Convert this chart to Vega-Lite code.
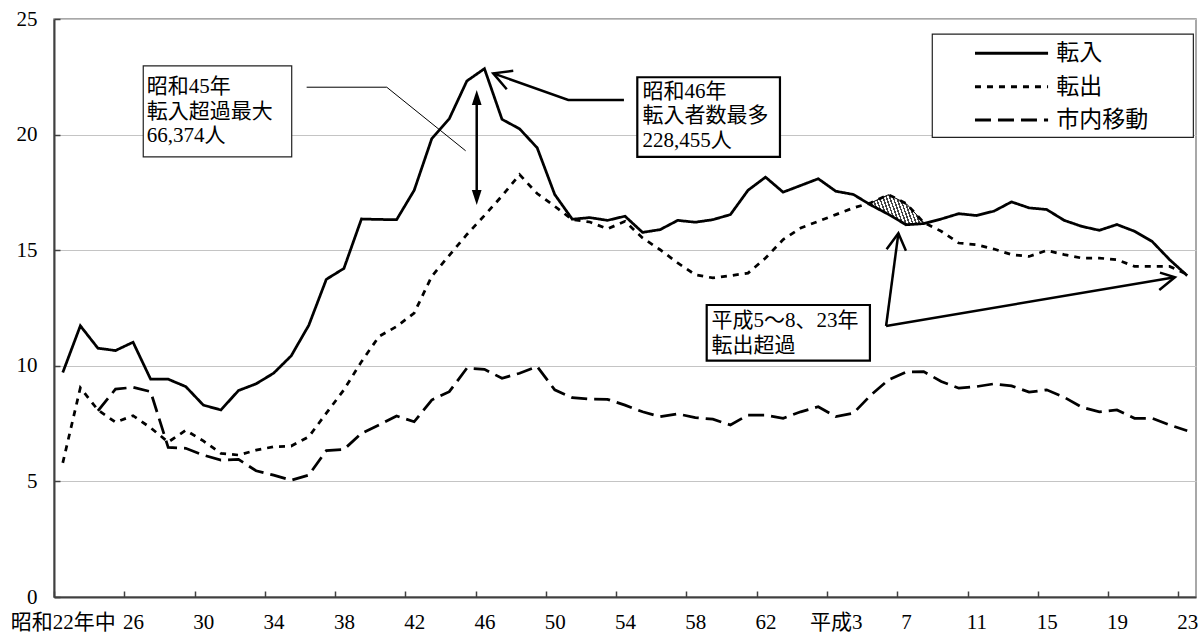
{
  "$schema": "https://vega.github.io/schema/vega-lite/v6.json",
  "width": 1142,
  "height": 578,
  "autosize": {"type": "none"},
  "padding": {"left": 54, "top": 19, "right": 4, "bottom": 38},
  "config": {
    "font": "'Liberation Serif', 'Noto Sans CJK JP'",
    "view": {"stroke": "#8c8c8c", "strokeWidth": 1.5},
    "axis": {"domainColor": "#404040", "domainWidth": 2, "tickColor": "#404040", "tickWidth": 1.5, "labelFontSize": 21, "labelColor": "black", "labelFont": "'Liberation Serif', 'Noto Sans CJK JP'"},
    "axisX": {"grid": false},
    "axisY": {"grid": true, "gridColor": "#c4c4c4", "gridWidth": 1}
  },
  "datasets": {
    "migration": [
      {"i": 0, "年": "昭和22", "転入": 9.71, "転出": 5.80, "市内移動": null},
      {"i": 1, "年": "昭和23", "転入": 11.73, "転出": 9.05, "市内移動": null},
      {"i": 2, "年": "昭和24", "転入": 10.76, "転出": 8.09, "市内移動": 8.05},
      {"i": 3, "年": "昭和25", "転入": 10.66, "転出": 7.56, "市内移動": 8.99},
      {"i": 4, "年": "昭和26", "転入": 11.02, "転出": 7.84, "市内移動": 9.07},
      {"i": 5, "年": "昭和27", "転入": 9.42, "転出": 7.32, "市内移動": 8.88},
      {"i": 6, "年": "昭和28", "転入": 9.42, "転出": 6.70, "市内移動": 6.47},
      {"i": 7, "年": "昭和29", "転入": 9.10, "転出": 7.21, "市内移動": 6.43},
      {"i": 8, "年": "昭和30", "転入": 8.30, "転出": 6.75, "市内移動": 6.14},
      {"i": 9, "年": "昭和31", "転入": 8.09, "転出": 6.21, "市内移動": 5.92},
      {"i": 10, "年": "昭和32", "転入": 8.93, "転出": 6.14, "市内移動": 5.95},
      {"i": 11, "年": "昭和33", "転入": 9.22, "転出": 6.35, "市内移動": 5.46},
      {"i": 12, "年": "昭和34", "転入": 9.68, "転出": 6.50, "市内移動": 5.27},
      {"i": 13, "年": "昭和35", "転入": 10.43, "転出": 6.53, "市内移動": 5.05},
      {"i": 14, "年": "昭和36", "転入": 11.75, "転出": 6.93, "市内移動": 5.27},
      {"i": 15, "年": "昭和37", "転入": 13.74, "転出": 7.95, "市内移動": 6.33},
      {"i": 16, "年": "昭和38", "転入": 14.21, "転出": 8.96, "市内移動": 6.38},
      {"i": 17, "年": "昭和39", "転入": 16.35, "転出": 10.18, "市内移動": 7.08},
      {"i": 18, "年": "昭和40", "転入": 16.33, "転出": 11.27, "市内移動": 7.44},
      {"i": 19, "年": "昭和41", "転入": 16.32, "転出": 11.70, "市内移動": 7.83},
      {"i": 20, "年": "昭和42", "転入": 17.59, "転出": 12.28, "市内移動": 7.58},
      {"i": 21, "年": "昭和43", "転入": 19.82, "転出": 13.87, "市内移動": 8.52},
      {"i": 22, "年": "昭和44", "転入": 20.69, "転出": 14.78, "市内移動": 8.88},
      {"i": 23, "年": "昭和45", "転入": 22.32, "転出": 15.68, "市内移動": 9.90},
      {"i": 24, "年": "昭和46", "転入": 22.85, "転出": 16.50, "市内移動": 9.85},
      {"i": 25, "年": "昭和47", "転入": 20.66, "転出": 17.35, "市内移動": 9.46},
      {"i": 26, "年": "昭和48", "転入": 20.25, "転出": 18.27, "市内移動": 9.68},
      {"i": 27, "年": "昭和49", "転入": 19.43, "転出": 17.45, "市内移動": 9.97},
      {"i": 28, "年": "昭和50", "転入": 17.41, "転出": 16.90, "市内移動": 8.96},
      {"i": 29, "年": "昭和51", "転入": 16.34, "転出": 16.32, "市内移動": 8.62},
      {"i": 30, "年": "昭和52", "転入": 16.41, "転出": 16.22, "市内移動": 8.56},
      {"i": 31, "年": "昭和53", "転入": 16.29, "転出": 15.92, "市内移動": 8.55},
      {"i": 32, "年": "昭和54", "転入": 16.47, "転出": 16.25, "市内移動": 8.30},
      {"i": 33, "年": "昭和55", "転入": 15.77, "転出": 15.53, "市内移動": 8.01},
      {"i": 34, "年": "昭和56", "転入": 15.89, "転出": 15.02, "市内移動": 7.80},
      {"i": 35, "年": "昭和57", "転入": 16.29, "転出": 14.45, "市内移動": 7.92},
      {"i": 36, "年": "昭和58", "転入": 16.21, "転出": 13.94, "市内移動": 7.76},
      {"i": 37, "年": "昭和59", "転入": 16.32, "転出": 13.80, "市内移動": 7.69},
      {"i": 38, "年": "昭和60", "転入": 16.54, "転出": 13.90, "市内移動": 7.44},
      {"i": 39, "年": "昭和61", "転入": 17.59, "転出": 14.01, "市内移動": 7.87},
      {"i": 40, "年": "昭和62", "転入": 18.16, "転出": 14.66, "市内移動": 7.87},
      {"i": 41, "年": "昭和63", "転入": 17.51, "転出": 15.46, "市内移動": 7.73},
      {"i": 42, "年": "平成1", "転入": 17.80, "転出": 15.96, "市内移動": 8.01},
      {"i": 43, "年": "平成2", "転入": 18.09, "転出": 16.25, "市内移動": 8.23},
      {"i": 44, "年": "平成3", "転入": 17.55, "転出": 16.54, "市内移動": 7.80},
      {"i": 45, "年": "平成4", "転入": 17.41, "転出": 16.83, "市内移動": 7.95},
      {"i": 46, "年": "平成5", "転入": 16.95, "転出": 17.05, "市内移動": 8.74},
      {"i": 47, "年": "平成6", "転入": 16.55, "転出": 17.40, "市内移動": 9.39},
      {"i": 48, "年": "平成7", "転入": 16.10, "転出": 17.02, "市内移動": 9.73},
      {"i": 49, "年": "平成8", "転入": 16.15, "転出": 16.20, "市内移動": 9.75},
      {"i": 50, "年": "平成9", "転入": 16.35, "転出": 15.82, "市内移動": 9.32},
      {"i": 51, "年": "平成10", "転入": 16.58, "転出": 15.31, "市内移動": 9.03},
      {"i": 52, "年": "平成11", "転入": 16.50, "転出": 15.24, "市内移動": 9.10},
      {"i": 53, "年": "平成12", "転入": 16.69, "転出": 15.05, "市内移動": 9.22},
      {"i": 54, "年": "平成13", "転入": 17.09, "転出": 14.81, "市内移動": 9.13},
      {"i": 55, "年": "平成14", "転入": 16.83, "転出": 14.73, "市内移動": 8.86},
      {"i": 56, "年": "平成15", "転入": 16.76, "転出": 14.99, "市内移動": 8.96},
      {"i": 57, "年": "平成16", "転入": 16.29, "転出": 14.81, "市内移動": 8.64},
      {"i": 58, "年": "平成17", "転入": 16.03, "転出": 14.66, "市内移動": 8.21},
      {"i": 59, "年": "平成18", "転入": 15.86, "転出": 14.66, "市内移動": 8.01},
      {"i": 60, "年": "平成19", "転入": 16.11, "転出": 14.59, "市内移動": 8.09},
      {"i": 61, "年": "平成20", "転入": 15.82, "転出": 14.30, "市内移動": 7.73},
      {"i": 62, "年": "平成21", "転入": 15.38, "転出": 14.30, "市内移動": 7.73},
      {"i": 63, "年": "平成22", "転入": 14.59, "転出": 14.30, "市内移動": 7.44},
      {"i": 64, "年": "平成23", "転入": 13.90, "転出": 13.95, "市内移動": 7.19}
    ],
    "boxes": [
      {"name": "box45", "x": 4.58, "x2": 13.03, "y": 22.97, "y2": 19.04},
      {"name": "box46", "x": 32.70, "x2": 40.82, "y": 22.48, "y2": 19.04},
      {"name": "boxH", "x": 36.65, "x2": 45.94, "y": 12.63, "y2": 10.22},
      {"name": "legend", "x": 49.49, "x2": 64.35, "y": 24.35, "y2": 19.88}
    ],
    "legendItems": [
      {"系列": "転入", "x": 51.92, "x2": 56.08, "y": 23.52, "tx": 56.55},
      {"系列": "転出", "x": 51.92, "x2": 56.08, "y": 22.07, "tx": 56.55},
      {"系列": "市内移動", "x": 51.92, "x2": 56.08, "y": 20.63, "tx": 56.55}
    ],
    "notes": [
      {"x": 4.78, "y": 22.53, "text": "昭和45年\n転入超過最大\n66,374人"},
      {"x": 32.99, "y": 22.32, "text": "昭和46年\n転入者数最多\n228,455人"},
      {"x": 36.93, "y": 12.41, "text": "平成5～8、23年\n転出超過"}
    ],
    "arrows": [
      {"seg": "leader", "o": 0, "x": 13.88, "y": 22.05},
      {"seg": "leader", "o": 1, "x": 18.44, "y": 22.05},
      {"seg": "leader", "o": 2, "x": 22.93, "y": 19.30},
      {"seg": "a46", "o": 0, "x": 31.94, "y": 21.50},
      {"seg": "a46", "o": 1, "x": 28.77, "y": 21.50},
      {"seg": "a46", "o": 2, "x": 24.50, "y": 22.65},
      {"seg": "a46h", "o": 0, "x": 25.64, "y": 22.76},
      {"seg": "a46h", "o": 1, "x": 24.50, "y": 22.65},
      {"seg": "a46h", "o": 2, "x": 25.27, "y": 21.96},
      {"seg": "aH1", "o": 0, "x": 46.86, "y": 11.72},
      {"seg": "aH1", "o": 1, "x": 47.56, "y": 15.73},
      {"seg": "aH1h", "o": 0, "x": 46.89, "y": 15.04},
      {"seg": "aH1h", "o": 1, "x": 47.56, "y": 15.73},
      {"seg": "aH1h", "o": 2, "x": 47.99, "y": 14.98},
      {"seg": "aH2", "o": 0, "x": 46.86, "y": 11.72},
      {"seg": "aH2", "o": 1, "x": 63.30, "y": 13.83},
      {"seg": "aH2h", "o": 0, "x": 62.45, "y": 14.03},
      {"seg": "aH2h", "o": 1, "x": 63.30, "y": 13.83},
      {"seg": "aH2h", "o": 2, "x": 62.41, "y": 13.28}
    ],
    "shaft": [{"x": 23.56, "y": 21.60, "y2": 17.28}],
    "heads": [
      {"x": 23.56, "y": 21.60, "dir": "up"},
      {"x": 23.56, "y": 17.28, "dir": "down"}
    ]
  },
  "layer": [
    {
      "data": {"name": "migration"},
      "transform": [{"filter": "datum.i >= 46 && datum.i <= 49"}],
      "mark": {
        "type": "area",
        "stroke": "black",
        "strokeWidth": 1,
        "fill": {
          "gradient": "linear", "x1": 0, "y1": 0.5, "x2": 1, "y2": 0.3,
          "stops": [
            {"offset": 0, "color": "#ffffff"}, {"offset": 0.034, "color": "#ffffff"}, {"offset": 0.034, "color": "#444444"}, {"offset": 0.0625, "color": "#444444"},
            {"offset": 0.0625, "color": "#ffffff"}, {"offset": 0.0965, "color": "#ffffff"}, {"offset": 0.0965, "color": "#444444"}, {"offset": 0.125, "color": "#444444"},
            {"offset": 0.125, "color": "#ffffff"}, {"offset": 0.159, "color": "#ffffff"}, {"offset": 0.159, "color": "#444444"}, {"offset": 0.1875, "color": "#444444"},
            {"offset": 0.1875, "color": "#ffffff"}, {"offset": 0.2215, "color": "#ffffff"}, {"offset": 0.2215, "color": "#444444"}, {"offset": 0.25, "color": "#444444"},
            {"offset": 0.25, "color": "#ffffff"}, {"offset": 0.284, "color": "#ffffff"}, {"offset": 0.284, "color": "#444444"}, {"offset": 0.3125, "color": "#444444"},
            {"offset": 0.3125, "color": "#ffffff"}, {"offset": 0.3465, "color": "#ffffff"}, {"offset": 0.3465, "color": "#444444"}, {"offset": 0.375, "color": "#444444"},
            {"offset": 0.375, "color": "#ffffff"}, {"offset": 0.409, "color": "#ffffff"}, {"offset": 0.409, "color": "#444444"}, {"offset": 0.4375, "color": "#444444"},
            {"offset": 0.4375, "color": "#ffffff"}, {"offset": 0.4715, "color": "#ffffff"}, {"offset": 0.4715, "color": "#444444"}, {"offset": 0.5, "color": "#444444"},
            {"offset": 0.5, "color": "#ffffff"}, {"offset": 0.534, "color": "#ffffff"}, {"offset": 0.534, "color": "#444444"}, {"offset": 0.5625, "color": "#444444"},
            {"offset": 0.5625, "color": "#ffffff"}, {"offset": 0.5965, "color": "#ffffff"}, {"offset": 0.5965, "color": "#444444"}, {"offset": 0.625, "color": "#444444"},
            {"offset": 0.625, "color": "#ffffff"}, {"offset": 0.659, "color": "#ffffff"}, {"offset": 0.659, "color": "#444444"}, {"offset": 0.6875, "color": "#444444"},
            {"offset": 0.6875, "color": "#ffffff"}, {"offset": 0.7215, "color": "#ffffff"}, {"offset": 0.7215, "color": "#444444"}, {"offset": 0.75, "color": "#444444"},
            {"offset": 0.75, "color": "#ffffff"}, {"offset": 0.784, "color": "#ffffff"}, {"offset": 0.784, "color": "#444444"}, {"offset": 0.8125, "color": "#444444"},
            {"offset": 0.8125, "color": "#ffffff"}, {"offset": 0.8465, "color": "#ffffff"}, {"offset": 0.8465, "color": "#444444"}, {"offset": 0.875, "color": "#444444"},
            {"offset": 0.875, "color": "#ffffff"}, {"offset": 0.909, "color": "#ffffff"}, {"offset": 0.909, "color": "#444444"}, {"offset": 0.9375, "color": "#444444"},
            {"offset": 0.9375, "color": "#ffffff"}, {"offset": 0.9715, "color": "#ffffff"}, {"offset": 0.9715, "color": "#444444"}, {"offset": 1, "color": "#444444"}
          ]
        }
      },
      "encoding": {
        "x": {"field": "i", "type": "quantitative", "title": null, "scale": {"domain": [-0.5, 64.5], "nice": false, "zero": false},
          "axis": {
            "values": [-0.5, 0.5, 1.5, 2.5, 3.5, 4.5, 5.5, 6.5, 7.5, 8.5, 9.5, 10.5, 11.5, 12.5, 13.5, 14.5, 15.5, 16.5, 17.5, 18.5, 19.5, 20.5, 21.5, 22.5, 23.5, 24.5, 25.5, 26.5, 27.5, 28.5, 29.5, 30.5, 31.5, 32.5, 33.5, 34.5, 35.5, 36.5, 37.5, 38.5, 39.5, 40.5, 41.5, 42.5, 43.5, 44.5, 45.5, 46.5, 47.5, 48.5, 49.5, 50.5, 51.5, 52.5, 53.5, 54.5, 55.5, 56.5, 57.5, 58.5, 59.5, 60.5, 61.5, 62.5, 63.5, 64.5],
            "labelExpr": "((datum.value + 0.5) % 4 != 0 || datum.value > 64) ? '' : (datum.value + 0.5 == 0 ? '昭和22年中' : (datum.value + 0.5 == 44 ? '平成3' : (datum.value + 0.5 < 42 ? '' + (22 + datum.value + 0.5) : '' + (datum.value + 0.5 - 41))))",
            "labelOffset": 8.78,
            "labelOverlap": false,
            "labelFlush": false,
            "labelBound": false,
            "labelAlign": "center",
            "tickSize": -6,
            "labelPadding": 20,
            "grid": false
          }
        },
        "y": {"field": "転出", "type": "quantitative", "title": null, "scale": {"domain": [0, 25], "nice": false},
          "axis": {"values": [0, 5, 10, 15, 20, 25], "tickSize": -6, "labelPadding": 23, "grid": true}
        },
        "y2": {"field": "転入"}
      }
    },
    {
      "data": {"name": "migration"},
      "transform": [{"fold": ["転入", "転出", "市内移動"], "as": ["系列", "値"]}],
      "mark": {"type": "line", "color": "black", "strokeWidth": 2.75},
      "encoding": {
        "x": {"field": "i", "type": "quantitative", "title": null, "scale": {"domain": [-0.5, 64.5], "nice": false, "zero": false}},
        "y": {"field": "値", "type": "quantitative", "title": null, "scale": {"domain": [0, 25], "nice": false}},
        "strokeDash": {
          "field": "系列", "type": "nominal", "legend": null,
          "scale": {"domain": ["転入", "転出", "市内移動"], "range": [[1, 0], [6, 6], [16, 7]]}
        }
      }
    },
    {
      "data": {"name": "boxes"},
      "transform": [{"filter": "datum.name == 'box45' || datum.name == 'legend'"}],
      "mark": {"type": "rect", "fill": "white", "stroke": "#222222", "strokeWidth": 1.2},
      "encoding": {
        "x": {"field": "x", "type": "quantitative", "title": null, "scale": {"domain": [-0.5, 64.5], "nice": false, "zero": false}},
        "x2": {"field": "x2"},
        "y": {"field": "y", "type": "quantitative", "title": null, "scale": {"domain": [0, 25], "nice": false}},
        "y2": {"field": "y2"}
      }
    },
    {
      "data": {"name": "boxes"},
      "transform": [{"filter": "datum.name == 'box46' || datum.name == 'boxH'"}],
      "mark": {"type": "rect", "fill": "white", "stroke": "black", "strokeWidth": 2.2},
      "encoding": {
        "x": {"field": "x", "type": "quantitative", "title": null, "scale": {"domain": [-0.5, 64.5], "nice": false, "zero": false}},
        "x2": {"field": "x2"},
        "y": {"field": "y", "type": "quantitative", "title": null, "scale": {"domain": [0, 25], "nice": false}},
        "y2": {"field": "y2"}
      }
    },
    {
      "data": {"name": "legendItems"},
      "mark": {"type": "rule", "color": "black", "strokeWidth": 3},
      "encoding": {
        "x": {"field": "x", "type": "quantitative", "title": null, "scale": {"domain": [-0.5, 64.5], "nice": false, "zero": false}},
        "x2": {"field": "x2"},
        "y": {"field": "y", "type": "quantitative", "title": null, "scale": {"domain": [0, 25], "nice": false}},
        "strokeDash": {"field": "系列", "type": "nominal", "legend": null}
      }
    },
    {
      "data": {"name": "legendItems"},
      "mark": {"type": "text", "align": "left", "baseline": "middle", "fontSize": 23, "font": "'Noto Sans CJK JP'", "color": "black"},
      "encoding": {
        "x": {"field": "tx", "type": "quantitative", "title": null, "scale": {"domain": [-0.5, 64.5], "nice": false, "zero": false}},
        "y": {"field": "y", "type": "quantitative", "title": null, "scale": {"domain": [0, 25], "nice": false}},
        "text": {"field": "系列", "type": "nominal"}
      }
    },
    {
      "data": {"name": "notes"},
      "mark": {"type": "text", "align": "left", "baseline": "top", "lineBreak": "\n", "lineHeight": 24.5, "fontSize": 21, "font": "'Liberation Serif', 'Noto Sans CJK JP'", "color": "black"},
      "encoding": {
        "x": {"field": "x", "type": "quantitative", "title": null, "scale": {"domain": [-0.5, 64.5], "nice": false, "zero": false}},
        "y": {"field": "y", "type": "quantitative", "title": null, "scale": {"domain": [0, 25], "nice": false}},
        "text": {"field": "text", "type": "nominal"}
      }
    },
    {
      "data": {"name": "arrows"},
      "transform": [{"filter": "datum.seg == 'leader'"}],
      "mark": {"type": "line", "color": "black", "strokeWidth": 1},
      "encoding": {
        "x": {"field": "x", "type": "quantitative", "title": null, "scale": {"domain": [-0.5, 64.5], "nice": false, "zero": false}},
        "y": {"field": "y", "type": "quantitative", "title": null, "scale": {"domain": [0, 25], "nice": false}},
        "order": {"field": "o", "type": "quantitative"}
      }
    },
    {
      "data": {"name": "arrows"},
      "transform": [{"filter": "datum.seg != 'leader'"}],
      "mark": {"type": "line", "color": "black", "strokeWidth": 2.5, "strokeJoin": "miter"},
      "encoding": {
        "x": {"field": "x", "type": "quantitative", "title": null, "scale": {"domain": [-0.5, 64.5], "nice": false, "zero": false}},
        "y": {"field": "y", "type": "quantitative", "title": null, "scale": {"domain": [0, 25], "nice": false}},
        "detail": {"field": "seg", "type": "nominal"},
        "order": {"field": "o", "type": "quantitative"}
      }
    },
    {
      "data": {"name": "shaft"},
      "mark": {"type": "rule", "color": "black", "strokeWidth": 2.5},
      "encoding": {
        "x": {"field": "x", "type": "quantitative", "title": null, "scale": {"domain": [-0.5, 64.5], "nice": false, "zero": false}},
        "y": {"field": "y", "type": "quantitative", "title": null, "scale": {"domain": [0, 25], "nice": false}},
        "y2": {"field": "y2"}
      }
    },
    {
      "data": {"name": "heads"},
      "mark": {"type": "point", "filled": true, "color": "black", "size": 225, "opacity": 1},
      "encoding": {
        "x": {"field": "x", "type": "quantitative", "title": null, "scale": {"domain": [-0.5, 64.5], "nice": false, "zero": false}},
        "y": {"field": "y", "type": "quantitative", "title": null, "scale": {"domain": [0, 25], "nice": false}},
        "shape": {"field": "dir", "type": "nominal", "legend": null,
          "scale": {"domain": ["up", "down"], "range": ["M0,-1L0.65,1L-0.65,1Z", "M0,1L0.65,-1L-0.65,-1Z"]}}
      }
    }
  ]
}
